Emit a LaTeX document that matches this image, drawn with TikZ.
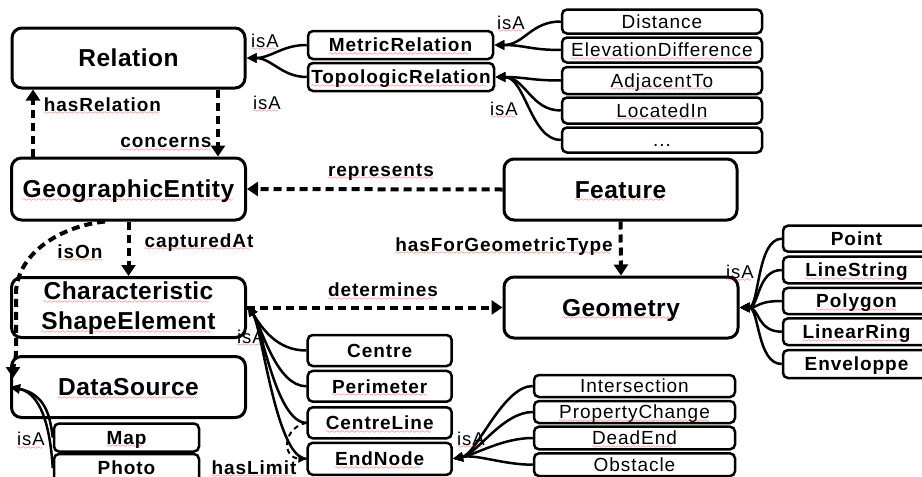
\documentclass[tikz,border=0pt]{standalone}
\usepackage{fontspec}
\setmainfont{Liberation Sans}
\newfontfamily\ftbig{Liberation Sans}[LetterSpace=2]
\newfontfamily\ftsm{Liberation Sans}[LetterSpace=5]
\usetikzlibrary{arrows.meta}
\font\sqwave=lasy6
\newsavebox\sqbox
\newcommand\sq[1]{\sbox\sqbox{#1}\leavevmode\rlap{\usebox\sqbox}\textcolor{red}{\hbox to \wd\sqbox{\leaders\hbox{\lower3.5pt\hbox{\sqwave\char58}}\hfill}}}
\begin{document}
\begin{tikzpicture}[x=1pt,y=-1pt,
  big/.style={draw, line width=3pt, rounded corners=10pt, minimum width=233pt, minimum height=60pt, inner sep=0pt,
    font=\ftbig\fontsize{24.5}{30}\selectfont\bfseries, text height=17.5pt, text depth=0pt},
  sbb/.style={draw, line width=2.5pt, rounded corners=5pt, inner sep=0pt,
    font=\ftsm\fontsize{19}{21}\selectfont\bfseries, text height=13.6pt, text depth=0pt},
  sbr/.style={sbb, font=\ftsm\fontsize{19}{21}\selectfont},
  lab/.style={font=\ftsm\fontsize{19}{21}\selectfont\bfseries, inner sep=0pt, anchor=base},
  isa/.style={font=\ftsm\fontsize{18.5}{20}\selectfont, inner sep=0pt, anchor=base},
  rel/.style={line width=4pt, dash pattern=on 8pt off 5pt, -{Triangle[width=14pt,length=11pt]}},
  sub/.style={line width=2.5pt, -{Triangle[width=9pt,length=10pt]}},
  haslim/.style={line width=2pt, dash pattern=on 5pt off 4pt, -{Triangle[width=8pt,length=8pt]}},
  txt/.style={inner sep=0pt, anchor=base, font=\ftbig\fontsize{24.5}{30}\selectfont\bfseries}
]
\fill[white] (0,0) rectangle (922,477);
\useasboundingbox (0,0) rectangle (922,477);

% main boxes
\node[big] (rel) at (128.5,58) {Relation};
\node[big, minimum width=234pt, minimum height=62pt] (ge) at (128.5,189) {\sq{GeographicEntity}};
\node[big, minimum height=61pt] (feat) at (620.5,189.5) {\sq{Feature}};
\node[big, minimum width=234pt] (cse) at (128.5,307.5) {};
\node[txt] (cse1) at (128.5,299.5) {\sq{Characteristic}};
\node[txt] (cse2) at (128.5,329.5) {\sq{ShapeElement}};
\node[big, minimum width=234pt, minimum height=61pt] (geom) at (621,307.5) {\sq{Geometry}};
\node[big, minimum width=234pt, minimum height=61pt] (ds) at (128.5,387) {\sq{DataSource}};

% relation subtypes
\node[sbb, minimum width=185pt, minimum height=28pt] (mr) at (400.5,45) {\sq{MetricRelation}};
\node[sbb, minimum width=186pt, minimum height=28pt] (tr) at (401,77) {\sq{TopologicRelation}};
\node[sbr, minimum width=200pt, minimum height=24pt] (dist) at (662,21.5) {Distance};
\node[sbr, minimum width=200pt, minimum height=25pt] (elev) at (662,50) {\sq{ElevationDifference}};
\node[sbr, minimum width=200pt, minimum height=27pt] (adj) at (662,80.5) {\sq{AdjacentTo}};
\node[sbr, minimum width=200pt, minimum height=26pt] (loc) at (662,110.5) {\sq{LocatedIn}};
\node[sbr, minimum width=200pt, minimum height=25pt] (dots) at (662,140) {...};

% geometry subtypes
\node[sbb, minimum width=147pt, minimum height=26pt] (pt) at (856.5,238.7) {Point};
\node[sbb, minimum width=147pt, minimum height=26.6pt] (ls) at (856.5,270) {\sq{LineString}};
\node[sbb, minimum width=147pt, minimum height=26.3pt] (pg) at (856.5,301) {\sq{Polygon}};
\node[sbb, minimum width=147pt, minimum height=26.7pt] (lr) at (856.5,331.7) {\sq{LinearRing}};
\node[sbb, minimum width=147pt, minimum height=28pt] (env) at (856.5,364) {Enveloppe};

% shape element subtypes
\node[sbb, minimum width=144pt, minimum height=31pt] (ctr) at (379.7,350.5) {Centre};
\node[sbb, minimum width=144pt, minimum height=30.7pt] (per) at (379.7,386.3) {\sq{Perimeter}};
\node[sbb, minimum width=144pt, minimum height=31pt] (cl) at (379.7,422.8) {\sq{CentreLine}};
\node[sbb, minimum width=144pt, minimum height=32pt] (en) at (379.7,458.8) {\sq{EndNode}};

% end node subtypes
\node[sbr, minimum width=201pt, minimum height=22pt] (inter) at (634.5,386) {Intersection};
\node[sbr, minimum width=201pt, minimum height=22pt] (pc) at (634.5,412) {\sq{PropertyChange}};
\node[sbr, minimum width=201pt, minimum height=22.6pt] (de) at (634.5,438) {\sq{DeadEnd}};
\node[sbr, minimum width=201pt, minimum height=22.7pt] (obs) at (634.5,464.7) {Obstacle};

% data source subtypes
\node[sbb, minimum width=145pt, minimum height=28pt] (map) at (126.5,437.5) {\sq{Map}};
\node[sbb, minimum width=145pt, minimum height=28pt] (photo) at (126.5,468) {Photo};

% helper coordinates
\coordinate (x33) at (33,0);
\coordinate (x218) at (218,0);
\coordinate (x105) at (105,0);
\coordinate (cseA) at (248,306);
\coordinate (dsB) at (13,378);

% dashed relations
\draw[rel] (ge.north -| x33) -- (rel.south -| x33);
\draw[rel] (rel.south -| x218) -- (ge.north -| x218);
\draw[rel] (feat.west) -- (ge.east);
\draw[rel] (ge.south) -- (cse.north);
\draw[rel] (feat.south) -- (geom.north);
\draw[rel] (cse.east) -- (geom.west);
\draw[rel] (ge.south -| x105) .. controls (62,226) and (18,252) .. (16,292) -- (16,350) .. controls (16,362) and (13,367) .. (dsB);
\draw[haslim] (cl.west) .. controls (282,428) and (282,458) .. (en.west);

% isA links
\draw[sub] (mr.west) .. controls +(-25,0) and +(25,0) .. (rel.east);
\draw[sub] (tr.west) .. controls +(-25,0) and +(25,0) .. (rel.east);
\draw[sub] (dist.west) .. controls +(-30,0) and +(30,0) .. (mr.east);
\draw[sub] (elev.west) .. controls +(-30,0) and +(30,0) .. (mr.east);
\draw[sub] (adj.west) .. controls +(-30,0) and +(30,0) .. (tr.east);
\draw[sub] (loc.west) .. controls +(-30,0) and +(30,0) .. (tr.east);
\draw[sub] (dots.west) .. controls +(-30,0) and +(30,0) .. (tr.east);
\foreach \b in {pt,ls,pg,lr,env}
  \draw[sub] (\b.west) .. controls +(-25,0) and +(20,0) .. (geom.east);
\foreach \b in {ctr,per,cl,en}
  \draw[sub] (\b.west) .. controls +(-30,0) and (262,328) .. (cseA);
\foreach \b in {inter,pc,de,obs}
  \draw[sub] (\b.west) .. controls +(-30,0) and (477,454) .. (en.east);
\draw[sub] (map.west) .. controls (50,415) and (45,394) .. (ds.west);
\draw[sub] (photo.west) .. controls (51,440) and (45,394) .. (ds.west);

% labels
\node[isa] (l1) at (265,47) {\sq{isA}};
\node[isa] (l2) at (267,109.3) {\sq{isA}};
\node[isa] (l3) at (511,29.3) {\sq{isA}};
\node[isa] (l4) at (504,115) {\sq{isA}};
\node[isa] (l5) at (740,278.3) {\sq{isA}};
\node[isa] (l6) at (251,343.3) {\sq{isA}};
\node[isa] (l7) at (31,445.7) {\sq{isA}};
\node[isa] (l8) at (471,445) {\sq{isA}};
\node[lab] (hr) at (102.5,111) {\sq{hasRelation}};
\node[lab] (co) at (166,147.7) {\sq{concerns}};
\node[lab] (re) at (381,176) {\sq{represents}};
\node[lab] (io) at (80,258.3) {\sq{isOn}};
\node[lab] (ca) at (199,247.3) {\sq{capturedAt}};
\node[lab] (hg) at (504,251) {\sq{hasForGeometricType}};
\node[lab] (dt) at (383,296.7) {\sq{determines}};
\node[lab] (hl) at (254,474) {\sq{hasLimit}};
\end{tikzpicture}
\end{document}
